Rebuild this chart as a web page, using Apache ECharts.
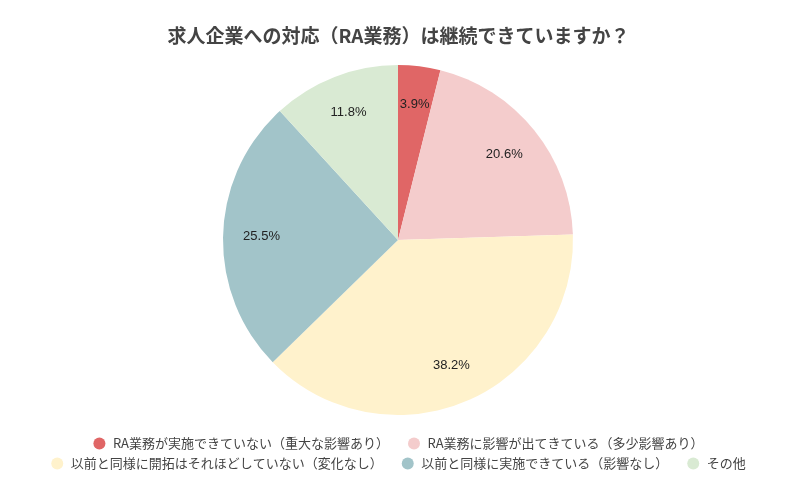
<!DOCTYPE html>
<html><head><meta charset="utf-8">
<script src="https://cdn.jsdelivr.net/npm/echarts@6/dist/echarts.min.js"></script>
<style>html,body{margin:0;padding:0;background:#fff}#c{width:797px;height:493px}</style>
</head><body><div id="c"></div>
<script>
const title = '求人企業への対応（RA業務）は継続できていますか？';
const categories = [
  'RA業務が実施できていない（重大な影響あり）',
  'RA業務に影響が出てきている（多少影響あり）',
  '以前と同様に開拓はそれほどしていない（変化なし）',
  '以前と同様に実施できている（影響なし）',
  'その他'
];
const values = [3.9, 20.6, 38.2, 25.5, 11.8];
const colors = ['#e06666', '#f4cccc', '#fff2cc', '#a2c4c9', '#d9ead3'];

const font = '"Noto Sans CJK JP", "Noto Sans", sans-serif';
const data = categories.map((n, i) => ({ name: n, value: values[i], itemStyle: { color: colors[i] } }));
const legendBase = {
  icon: 'circle', itemWidth: 17, itemHeight: 12, itemGap: 19, left: 'center',
  textStyle: { fontFamily: font, fontSize: 13, color: '#444' }
};
const chart = echarts.init(document.getElementById('c'), null, { renderer: 'canvas' });
chart.setOption({
  animation: false,
  color: colors,
  title: { text: title, left: 'center', top: 21,
    textStyle: { fontFamily: font, fontSize: 19, fontWeight: 'bold', color: '#444' } },
  legend: [
    Object.assign({}, legendBase, { top: 432, data: categories.slice(0, 2) }),
    Object.assign({}, legendBase, { top: 452, data: categories.slice(2) })
  ],
  series: [
    { type: 'pie', center: [398, 240], radius: [0, 175], startAngle: 90, clockwise: true,
      data: data, label: { show: false }, labelLine: { show: false },
      itemStyle: { borderWidth: 0 }, emphasis: { disabled: true } },
    { type: 'pie', center: [398, 240], radius: [92, 175], startAngle: 90, clockwise: true,
      silent: true, legendHoverLink: false,
      data: categories.map((n, i) => ({ name: n, value: values[i] })),
      itemStyle: { color: 'rgba(0,0,0,0)', borderWidth: 0 },
      label: { show: true, position: 'inside', formatter: p => p.value.toFixed(1) + '%',
        fontFamily: '"Liberation Sans", Arial, sans-serif', fontSize: 13, color: '#222' },
      labelLine: { show: false }, emphasis: { disabled: true } }
  ]
});
</script></body></html>
